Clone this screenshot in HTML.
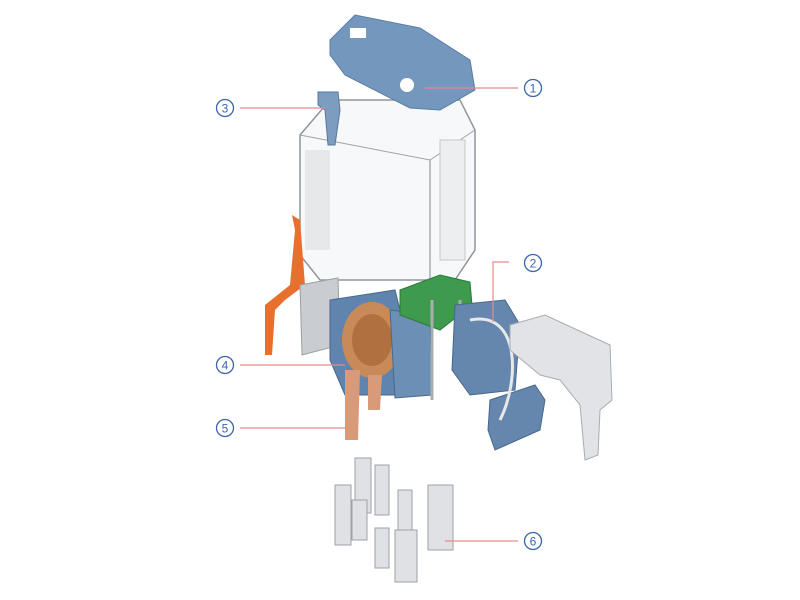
<!DOCTYPE html>
<html><head><meta charset="utf-8"><style>
html,body{margin:0;padding:0;background:#fff;}
svg{display:block;}
text{font-family:"Liberation Sans",sans-serif;}
</style></head><body>
<svg width="800" height="600" viewBox="0 0 800 600" xmlns="http://www.w3.org/2000/svg">
<rect width="800" height="600" fill="#fff"/>
<path d="M300,135 L330,100 L460,100 L475,130 L475,250 L455,280 L320,280 L300,255 Z" fill="#f7f8f9" stroke="#8f959b" stroke-width="1.5"/>
<path d="M300,135 L430,160 L475,130" fill="none" stroke="#9ea3a8" stroke-width="1"/>
<path d="M430,160 L430,280" fill="none" stroke="#a8adb2" stroke-width="1.5"/>
<rect x="305" y="150" width="25" height="100" fill="#e6e8ea"/>
<rect x="440" y="140" width="25" height="120" fill="#eceef0" stroke="#c4c8cc"/>
<path d="M330,40 L355,15 L420,28 L470,60 L475,90 L440,110 L410,108 L345,75 L330,55 Z" fill="#7497be" stroke="#5a7ea4"/>
<rect x="350" y="28" width="16" height="10" fill="#fff"/>
<circle cx="407" cy="85" r="7" fill="#fff"/>
<path d="M318,92 L338,92 L340,110 L335,145 L328,145 L325,110 L318,105 Z" fill="#7c9cc0" stroke="#55789c"/>
<path d="M292,215 L300,220 L305,285 L285,300 L275,310 L272,355 L265,355 L265,305 L290,285 L295,230 Z" fill="#e8702e"/>
<path d="M300,285 L338,278 L340,345 L302,355 Z" fill="#c9ccd0" stroke="#9aa0a6"/>
<path d="M330,300 L395,290 L405,330 L395,395 L345,395 L330,360 Z" fill="#5f84ad" stroke="#48698c"/>
<ellipse cx="372" cy="340" rx="30" ry="38" fill="#c98a5a"/>
<ellipse cx="372" cy="340" rx="20" ry="26" fill="#b0703f"/>
<path d="M390,310 L430,315 L432,395 L395,398 Z" fill="#6c8fb6" stroke="#48698c"/>
<path d="M400,290 L440,275 L470,282 L472,305 L440,330 L400,315 Z" fill="#3e9a4c" stroke="#2c7a3a"/>
<path d="M432,300 L432,400 M460,300 L460,350" stroke="#a8adb2" stroke-width="3"/>
<path d="M345,370 L360,370 L358,440 L345,440 Z M368,375 L382,375 L380,410 L368,410 Z" fill="#d99a7a"/>
<path d="M455,305 L505,300 L520,325 L515,390 L470,395 L452,370 Z" fill="#6586ad" stroke="#48698c"/>
<path d="M490,400 L535,385 L545,400 L540,430 L495,450 L488,430 Z" fill="#6586ad" stroke="#48698c"/>
<path d="M470,320 C520,310 520,380 500,420" fill="none" stroke="#e6e8ea" stroke-width="3"/>
<path d="M510,325 L545,315 L610,345 L612,400 L600,410 L598,455 L585,460 L580,405 L560,380 L540,375 L510,350 Z" fill="#e1e3e6" stroke="#a8adb2"/>
<g fill="#dfe1e4" stroke="#9ea3a8">
<rect x="355" y="458" width="16" height="55"/>
<rect x="375" y="465" width="14" height="50"/>
<rect x="335" y="485" width="16" height="60"/>
<rect x="352" y="500" width="15" height="40"/>
<rect x="398" y="490" width="14" height="55"/>
<rect x="375" y="528" width="14" height="40"/>
<rect x="395" y="530" width="22" height="52"/>
<rect x="428" y="485" width="25" height="65"/>
</g>
<g stroke="#e8898f" stroke-width="1.2" fill="none">
<line x1="425" y1="88" x2="518" y2="88"/>
<line x1="240" y1="108" x2="325" y2="108"/>
<polyline points="509,262 493,262 493,322"/>
<line x1="240" y1="365" x2="345" y2="365"/>
<line x1="240" y1="428" x2="345" y2="428"/>
<line x1="445" y1="541" x2="518" y2="541"/>
</g>
<g fill="none" stroke="#3a66b0" stroke-width="1.3">
<circle cx="533" cy="88" r="8.5"/>
<circle cx="533" cy="263" r="8.5"/>
<circle cx="225" cy="108" r="8.5"/>
<circle cx="225" cy="365" r="8.5"/>
<circle cx="225" cy="428" r="8.5"/>
<circle cx="533" cy="541" r="8.5"/>
</g>
<g fill="#3a66b0" font-size="12" text-anchor="middle">
<text x="533" y="92.5">1</text>
<text x="533" y="267.5">2</text>
<text x="225" y="112.5">3</text>
<text x="225" y="369.5">4</text>
<text x="225" y="432.5">5</text>
<text x="533" y="545.5">6</text>
</g>
</svg>
</body></html>
